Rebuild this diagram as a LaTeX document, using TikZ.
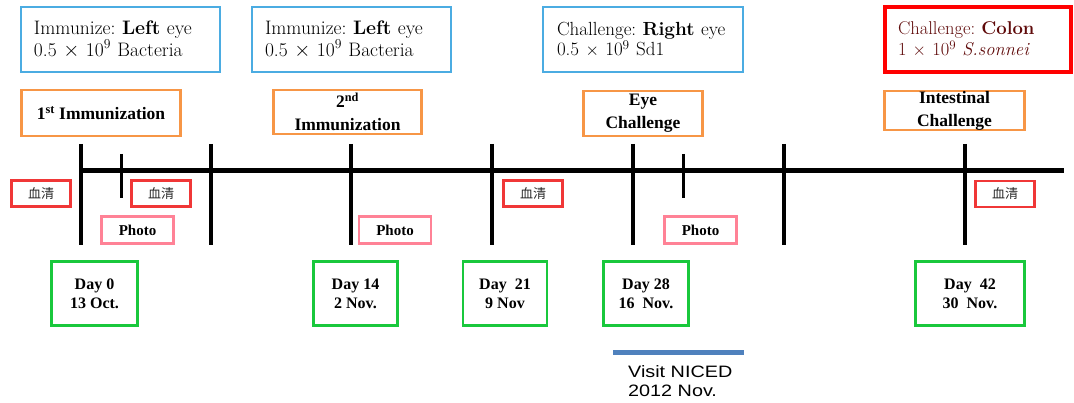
\documentclass[tikz,border=0pt]{standalone}
\usepackage{fontspec}
\newfontfamily\tnr{Liberation Serif}
\newfontfamily\cjk{Noto Sans CJK JP}
\newfontfamily\visitfont[FakeStretch=1.2]{Liberation Sans}
\definecolor{infoblue}{RGB}{75,172,226}
\definecolor{stageorange}{RGB}{247,150,70}
\definecolor{daygreen}{RGB}{25,200,60}
\definecolor{bigred}{RGB}{255,0,0}
\definecolor{serumred}{RGB}{240,55,55}
\definecolor{photopink}{RGB}{255,130,150}
\definecolor{darkredtext}{RGB}{95,10,10}
\definecolor{visitbar}{RGB}{79,129,189}
\frenchspacing
\begin{document}
\begin{tikzpicture}[x=1pt,y=-1pt,
  infobox/.style={draw=infoblue, line width=2.8pt, rectangle, inner ysep=0pt, inner xsep=13pt,
     minimum height=65pt, align=left, font=\fontsize{19.5}{20.5}\selectfont},
  stagebox/.style={draw=stageorange, line width=2.8pt, rectangle, inner sep=0pt, align=center,
     font=\tnr\bfseries\fontsize{17.5}{23}\selectfont},
  daybox/.style={draw=daygreen, line width=2.8pt, rectangle, inner sep=0pt, align=center,
     minimum height=64pt, font=\tnr\bfseries\fontsize{16}{19}\selectfont},
  serumbox/.style={draw=serumred, line width=2.6pt, rectangle, inner sep=0pt,
     minimum width=59pt, minimum height=26pt, text=black!85, font=\cjk\fontsize{13}{14}\selectfont},
  photobox/.style={draw=photopink, line width=2.4pt, rectangle, inner sep=0pt,
     minimum width=72pt, minimum height=27pt, font=\tnr\bfseries\fontsize{15}{17}\selectfont},
  axisline/.style={line width=5pt},
  majortick/.style={line width=4pt},
  minortick/.style={line width=3pt}
]
\useasboundingbox (0,0) rectangle (1074,403);

% info boxes
\node[infobox, text width=173pt] (imm1) at (120.5,39.5)
  {Immunize: \textbf{Left} eye\\0.5 $\times$ 10\textsuperscript{9} Bacteria};
\node[infobox, text width=173pt] (imm2) at (351.5,39.5)
  {Immunize: \textbf{Left} eye\\0.5 $\times$ 10\textsuperscript{9} Bacteria};
\node[infobox, text width=180pt, inner xsep=10pt, font=\fontsize{19}{20.5}\selectfont] (chal1) at (643,39.5)
  {\hspace*{4pt}Challenge: \textbf{Right} eye\\\hspace*{4pt}0.5 $\times$ 10\textsuperscript{9} Sd1};
\node[infobox, draw=bigred, line width=3.6pt, text width=160pt, text=darkredtext,
      font=\fontsize{18.5}{20.5}\selectfont] (chal2) at (978,39.5)
  {Challenge: \textbf{Colon}\\1 $\times$ 10\textsuperscript{9} \textit{S.sonnei}};

% stage boxes
\node[stagebox, minimum width=159pt, minimum height=46pt] (st1) at (101,113)
  {1\textsuperscript{st} Immunization};
\node[stagebox, minimum width=148pt, minimum height=44pt] (st2) at (347.5,112)
  {2\textsuperscript{nd}\\Immunization};
\node[stagebox, minimum width=119pt, minimum height=45pt] (st3) at (643,113.5)
  {Eye\\Challenge};
\node[stagebox, minimum width=140pt, minimum height=39pt] (st4) at (954.5,110.5)
  {Intestinal\\Challenge};

% timeline
\draw[axisline] (81,171) -- (1064,171);
\foreach \x in {81,211,351,492,633,784,965}
  \draw[majortick] (\x,144) -- (\x,245);
\foreach \x in {121,683}
  \draw[minortick] (\x,154) -- (\x,198);

% serum boxes
\node[serumbox] (se1) at (41,193.5) {血清};
\node[serumbox] (se2) at (161,193.5) {血清};
\node[serumbox] (se3) at (533,193.5) {血清};
\node[serumbox] (se4) at (1005,194) {血清};

% photo boxes
\node[photobox] (ph1) at (137.5,230) {Photo};
\node[photobox] (ph2) at (395,230) {Photo};
\node[photobox] (ph3) at (700.5,230) {Photo};

% day boxes
\node[daybox, minimum width=86pt] (d0) at (94.5,293.5) {Day 0\\13 Oct.};
\node[daybox, minimum width=84pt] (d14) at (355.5,293.5) {Day 14\\2 Nov.};
\node[daybox, minimum width=84pt] (d21) at (505,293.5) {Day\ \ 21\\9 Nov};
\node[daybox, minimum width=85pt] (d28) at (646,293.5) {Day 28\\16\ \ Nov.};
\node[daybox, minimum width=109pt] (d42) at (970,293.5) {Day\ \ 42\\30\ \ Nov.};

% visit bar
\coordinate (vbarL) at (613,353);
\coordinate (vbarR) at (744,353);
\draw[visitbar, line width=5pt] (vbarL) -- (vbarR);
\node[anchor=north west, inner sep=0pt, align=left,
      font=\visitfont\fontsize{16.5}{19}\selectfont] (visit) at (628,365)
  {Visit NICED\\2012 Nov.};
\end{tikzpicture}
\end{document}
